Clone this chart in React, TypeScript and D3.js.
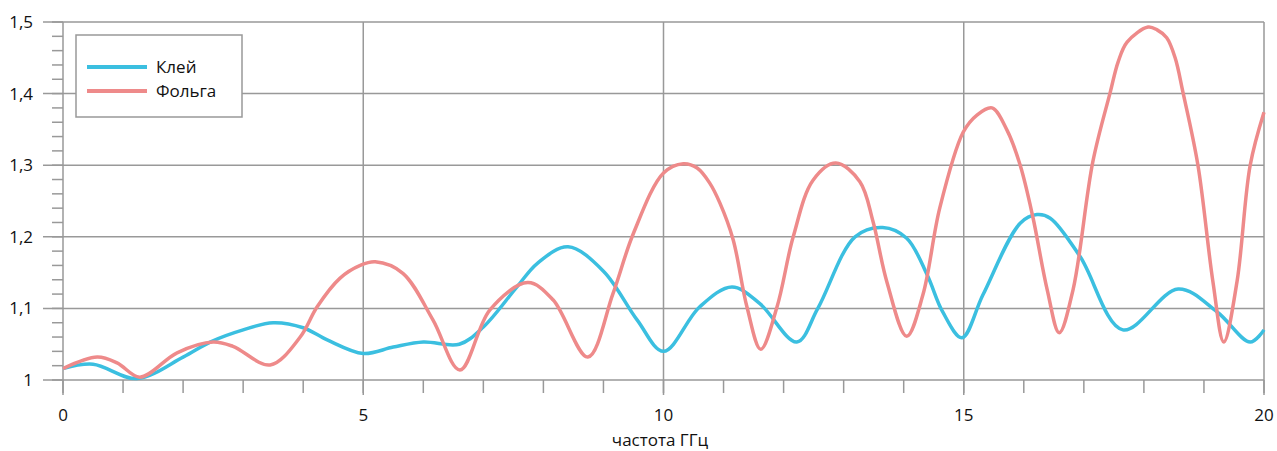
import React from "react";
import * as d3 from "d3";

const klejX = [0, 0.5, 1.23, 2.0, 2.45, 3.0, 3.5, 4.0, 4.4, 5.0, 5.5, 6.0, 6.6, 7.0, 7.56, 7.9, 8.41, 9.0, 9.56, 10.0, 10.6, 11.14, 11.6, 12.22, 12.57, 13.19, 13.65, 14.05, 14.39, 14.65, 14.97, 15.32, 15.94, 16.22, 16.44, 16.94, 17.65, 18.57, 19.22, 19.77, 20];
const klejY = [1.016, 1.022, 1.002, 1.032, 1.053, 1.070, 1.080, 1.073, 1.056, 1.037, 1.046, 1.053, 1.050, 1.074, 1.130, 1.163, 1.186, 1.152, 1.084, 1.040, 1.102, 1.130, 1.107, 1.053, 1.100, 1.200, 1.213, 1.198, 1.147, 1.095, 1.059, 1.119, 1.219, 1.231, 1.226, 1.172, 1.070, 1.127, 1.095, 1.053, 1.070];

const folgaX = [0, 0.57, 0.9, 1.28, 1.9, 2.5, 2.83, 3.45, 3.95, 4.23, 4.61, 4.95, 5.2, 5.66, 6.16, 6.61, 7.11, 7.74, 8.16, 8.74, 9.16, 9.5, 10.0, 10.33, 10.56, 10.77, 10.94, 11.16, 11.39, 11.62, 11.89, 12.16, 12.49, 12.87, 13.27, 13.49, 13.72, 14.05, 14.32, 14.6, 14.99, 15.22, 15.47, 15.72, 15.94, 16.15, 16.39, 16.59, 16.82, 17.15, 17.44, 17.57, 17.72, 18.07, 18.22, 18.38, 18.52, 18.65, 18.9, 19.15, 19.33, 19.55, 19.77, 20];
const folgaY = [1.016, 1.032, 1.024, 1.004, 1.038, 1.053, 1.047, 1.021, 1.060, 1.102, 1.142, 1.160, 1.165, 1.149, 1.084, 1.014, 1.098, 1.136, 1.112, 1.032, 1.121, 1.205, 1.289, 1.302, 1.296, 1.275, 1.247, 1.196, 1.102, 1.043, 1.102, 1.200, 1.279, 1.303, 1.277, 1.221, 1.137, 1.061, 1.119, 1.240, 1.346, 1.370, 1.380, 1.349, 1.300, 1.228, 1.126, 1.066, 1.126, 1.305, 1.402, 1.444, 1.472, 1.493, 1.489, 1.478, 1.450, 1.402, 1.300, 1.137, 1.053, 1.137, 1.300, 1.374];

const xMajorTicks = [0, 5, 10, 15, 20];
const xMinorTicks = d3.range(0, 21, 1);
const yMajorTicks = [1, 1.1, 1.2, 1.3, 1.4, 1.5];
const yMinorTicks = d3.range(0, 26).map((i) => 1 + i * 0.02);
const seriesNames = ["Клей", "Фольга"];
const seriesColors = ["#3bbfe0", "#ee8a8a"];
const xTitle = "частота ГГц";

const FONT = "'Open Sans', 'Noto Sans', sans-serif";

export default function App() {
  const x = d3.scaleLinear().domain([0, 20]).range([63, 1264]);
  const y = d3.scaleLinear().domain([1, 1.5]).range([380, 22]);
  const line = d3
    .line<[number, number]>()
    .x((d) => x(d[0]))
    .y((d) => y(d[1]))
    .curve(d3.curveCatmullRom.alpha(0.5));
  const klej = klejX.map((v, i) => [v, klejY[i]] as [number, number]);
  const folga = folgaX.map((v, i) => [v, folgaY[i]] as [number, number]);
  const fmt = (v: number) => (v === 1 ? "1" : v.toFixed(1).replace(".", ","));
  const grid = "#999";

  return (
    <svg width={1277} height={451} style={{ position: "absolute", left: 0, top: 0 }} fontFamily={FONT}>
      {yMinorTicks.map((t, i) => (
        <line key={"ym" + i} x1={52} x2={63} y1={y(t)} y2={y(t)} stroke={grid} strokeWidth={1.5} />
      ))}
      {xMinorTicks.map((t, i) => (
        <line key={"xm" + i} x1={x(t)} x2={x(t)} y1={380} y2={393} stroke={grid} strokeWidth={1.5} />
      ))}
      {yMajorTicks.map((t, i) => (
        <line key={"yg" + i} x1={43} x2={1264} y1={y(t)} y2={y(t)} stroke={grid} strokeWidth={1.5} />
      ))}
      {xMajorTicks.map((t, i) => (
        <line key={"xg" + i} x1={x(t)} x2={x(t)} y1={22} y2={395} stroke={grid} strokeWidth={1.5} />
      ))}
      {yMajorTicks.map((t, i) => (
        <text key={"yl" + i} x={33} y={y(t)} dy="0.35em" textAnchor="end" fontSize={17} fill="#111">
          {fmt(t)}
        </text>
      ))}
      {xMajorTicks.map((t, i) => (
        <text key={"xl" + i} x={x(t)} y={421} textAnchor="middle" fontSize={17} fill="#111">
          {t}
        </text>
      ))}
      <text x={660} y={446} textAnchor="middle" fontSize={17} fill="#111">
        {xTitle}
      </text>
      <path d={line(klej) || ""} fill="none" stroke={seriesColors[0]} strokeWidth={3.5} />
      <path d={line(folga) || ""} fill="none" stroke={seriesColors[1]} strokeWidth={3.5} />
      <rect x={76} y={35} width={166} height={82} fill="#fff" stroke={grid} strokeWidth={1.5} />
      {seriesNames.map((n, i) => (
        <g key={"lg" + i}>
          <line x1={87} x2={147} y1={67 + i * 24} y2={67 + i * 24} stroke={seriesColors[i]} strokeWidth={4} />
          <text x={156} y={67 + i * 24} dy="0.35em" fontSize={17} fill="#111">
            {n}
          </text>
        </g>
      ))}
    </svg>
  );
}
